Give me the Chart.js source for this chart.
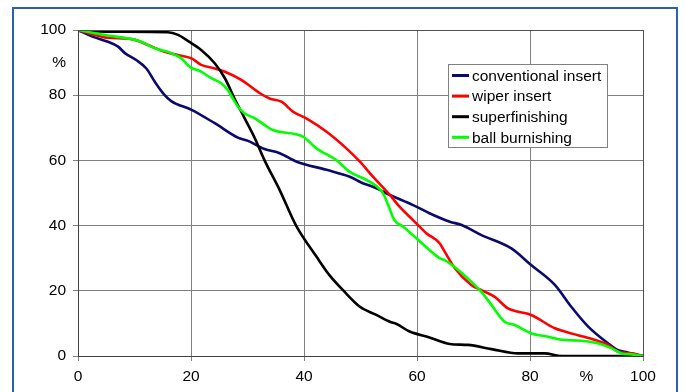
<!DOCTYPE html>
<html>
<head>
<meta charset="utf-8">
<script src="https://cdn.jsdelivr.net/npm/chart.js@4.4.1/dist/chart.umd.min.js"></script>
<style>
  html, body { margin: 0; padding: 0; background: #fff; }
  #wrap { width: 685px; height: 392px; position: relative; }
</style>
</head>
<body>
<div id="wrap"><canvas id="chart"></canvas></div>
<script>
'use strict';

// series (x = %, y = %)
const seriesNames = ['conventional insert', 'wiper insert', 'superfinishing', 'ball burnishing'];
const seriesColors = ['#0a0a6e', '#ff0000', '#000000', '#00ff00'];

const convX = [0, 2.7, 5.3, 7.1, 8.3, 10.3, 12.1, 13.6, 15.3, 16.5, 20.1, 24.2, 28.3, 30.1, 33, 35.7, 38.7, 44, 48.1, 50.4, 52.2, 55.2, 59.3, 62.2, 65.8, 67.9, 71.4, 76.7, 80.2, 84.4, 87.3, 90.3, 93.8, 95.6, 97.3, 99.1, 100];
const convY = [100, 97.9, 96.4, 94.9, 92.9, 90.8, 88.2, 84.1, 80.1, 78.2, 75.5, 71.4, 67.0, 66.0, 63.5, 62.2, 59.6, 57.1, 55.0, 53.0, 51.9, 49.4, 46.3, 43.8, 41.2, 40.2, 37.1, 33.0, 27.9, 21.8, 15.1, 9.0, 3.9, 1.8, 1.1, 0.3, 0];

const wipX = [0, 3.0, 5.3, 9.5, 12.4, 15.3, 17.7, 20.1, 21.8, 24.2, 26.0, 28.9, 32.2, 33.9, 36.0, 38.1, 40.4, 44.0, 47.5, 49.9, 52.2, 55.2, 56.9, 59.3, 61.7, 64.0, 64.9, 66.7, 69.6, 71.4, 73.7, 76.1, 77.9, 80.2, 84.4, 88.5, 91.5, 93.8, 95.6, 98.0, 100];
const wipY = [100, 98.5, 97.6, 97.2, 95.4, 93.3, 92.3, 91.3, 89.3, 88.2, 87.2, 84.7, 80.6, 79.0, 78.0, 74.9, 72.9, 68.8, 63.7, 59.6, 55.0, 49.4, 45.8, 41.7, 37.6, 34.6, 32.0, 26.9, 21.8, 20.2, 18.2, 14.6, 13.6, 12.6, 8.5, 6.4, 4.9, 3.4, 1.3, 0.8, 0];

const supX = [0, 5.3, 15.9, 17.7, 19.5, 21.8, 24.2, 26.0, 27.7, 29.5, 31.3, 33.0, 35.7, 38.6, 42.2, 44.5, 46.9, 49.9, 52.8, 55.2, 56.4, 58.7, 62.2, 65.8, 69.0, 73.2, 77.9, 82.6, 85.6, 100];
const supY = [100, 99.5, 99.3, 98.5, 96.6, 93.9, 89.8, 85.2, 79.0, 72.9, 66.8, 60.1, 50.9, 40.0, 30.5, 24.8, 20.2, 15.1, 12.6, 10.5, 9.8, 7.5, 5.7, 3.7, 3.4, 2.1, 0.8, 0.8, 0, 0];

const ballX = [0, 3.0, 5.3, 9.5, 11.2, 13.6, 16.5, 18.3, 19.8, 21.8, 23.6, 25.4, 26.5, 27.4, 28.3, 29.5, 31.3, 33.0, 34.5, 39.8, 42.2, 45.7, 48.1, 51.6, 54.0, 54.9, 56.0, 57.5, 59.9, 62.2, 64.0, 64.9, 67.3, 69.6, 71.4, 73.2, 75.5, 77.3, 80.2, 83.2, 86.1, 89.1, 92.0, 94.4, 96.2, 98.0, 100];
const ballY = [100, 99.0, 98.3, 97.2, 96.4, 94.4, 92.9, 91.3, 88.7, 87.2, 85.2, 83.6, 81.6, 79.0, 76.5, 74.4, 72.9, 70.9, 69.3, 67.3, 63.7, 60.1, 56.5, 53.5, 49.9, 46.3, 41.7, 39.7, 36.1, 32.5, 30.0, 29.4, 26.4, 22.8, 19.7, 15.6, 10.5, 9.5, 7.0, 5.9, 4.9, 4.7, 3.9, 2.4, 0.8, 0.5, 0];

const tickValues = [0, 20, 40, 60, 80, 100];
const unitLabel = '%';

const pts = (xs, ys) => xs.map((x, i) => ({ x, y: ys[i] }));
const allSeries = [pts(convX, convY), pts(wipX, wipY), pts(supX, supY), pts(ballX, ballY)];

const FONT = { family: '"Liberation Sans", Arial, sans-serif', size: 15.5 };

const tickLabel = (v) => (tickValues.includes(v) ? String(v) : (v === 90 ? unitLabel : ''));
const gridCol = (c) => (c.tick && tickValues.includes(c.tick.value) ? '#808080' : 'rgba(0,0,0,0)');

// white background, plot border, legend box and outer blue frame
const decor = {
  id: 'decor',
  beforeDraw(chart) {
    const ctx = chart.ctx;
    ctx.save();
    ctx.fillStyle = '#fff';
    ctx.fillRect(0, 0, chart.width, chart.height);
    ctx.restore();
  },
  afterDraw(chart) {
    const ctx = chart.ctx;
    const a = chart.chartArea;
    ctx.save();
    ctx.strokeStyle = '#505050';
    ctx.lineWidth = 1;
    ctx.beginPath();
    ctx.moveTo(a.left, a.top + 0.5);
    ctx.lineTo(a.right + 0.5, a.top + 0.5);
    ctx.lineTo(a.right + 0.5, a.bottom);
    ctx.stroke();

    // legend
    const lx = 448, ly = 64, lw = 159, lh = 83;
    ctx.fillStyle = '#fff';
    ctx.fillRect(lx, ly, lw, lh);
    ctx.strokeStyle = '#808080';
    ctx.strokeRect(lx + 0.5, ly + 0.5, lw, lh);
    ctx.font = FONT.size + 'px ' + FONT.family;
    ctx.textBaseline = 'middle';
    seriesNames.forEach((name, i) => {
      const y = ly + 11.5 + i * 20.6;
      ctx.strokeStyle = seriesColors[i];
      ctx.lineWidth = 3;
      ctx.beginPath();
      ctx.moveTo(lx + 4, y);
      ctx.lineTo(lx + 21, y);
      ctx.stroke();
      ctx.fillStyle = '#000';
      ctx.fillText(name, lx + 24, y + 1);
    });

    // outer frame
    ctx.strokeStyle = '#2a62ad';
    ctx.lineWidth = 2;
    ctx.strokeRect(13, 8, 664, 400);
    ctx.restore();
  },
};

const ctx = document.getElementById('chart').getContext('2d');
new Chart(ctx, {
  type: 'line',
  data: {
    datasets: allSeries.map((d, i) => ({
      label: seriesNames[i],
      data: d,
      borderColor: seriesColors[i],
      borderWidth: 2.6,
      pointRadius: 0,
      cubicInterpolationMode: 'monotone',
      fill: false,
      order: 3 - i,
    })),
  },
  options: {
    responsive: true,
    maintainAspectRatio: false,
    animation: false,
    layout: { padding: { left: 0, top: 30, right: 42, bottom: 0 } },
    plugins: { legend: { display: false }, tooltip: { enabled: false } },
    scales: {
      x: {
        type: 'linear',
        min: 0,
        max: 100,
        afterFit: (s) => { s.height = 36; },
        ticks: { stepSize: 10, autoSkip: false, maxRotation: 0, padding: 6, color: '#000', font: FONT, callback: tickLabel },
        grid: { color: gridCol, tickLength: 5 },
        border: { color: '#404040', width: 1 },
      },
      y: {
        min: 0,
        max: 100,
        afterFit: (s) => { s.width = 78; },
        ticks: { stepSize: 10, autoSkip: false, padding: 7, color: '#000', font: FONT, callback: tickLabel },
        grid: { color: gridCol, tickLength: 5 },
        border: { color: '#404040', width: 1 },
      },
    },
  },
  plugins: [decor],
});
</script>
</body>
</html>
